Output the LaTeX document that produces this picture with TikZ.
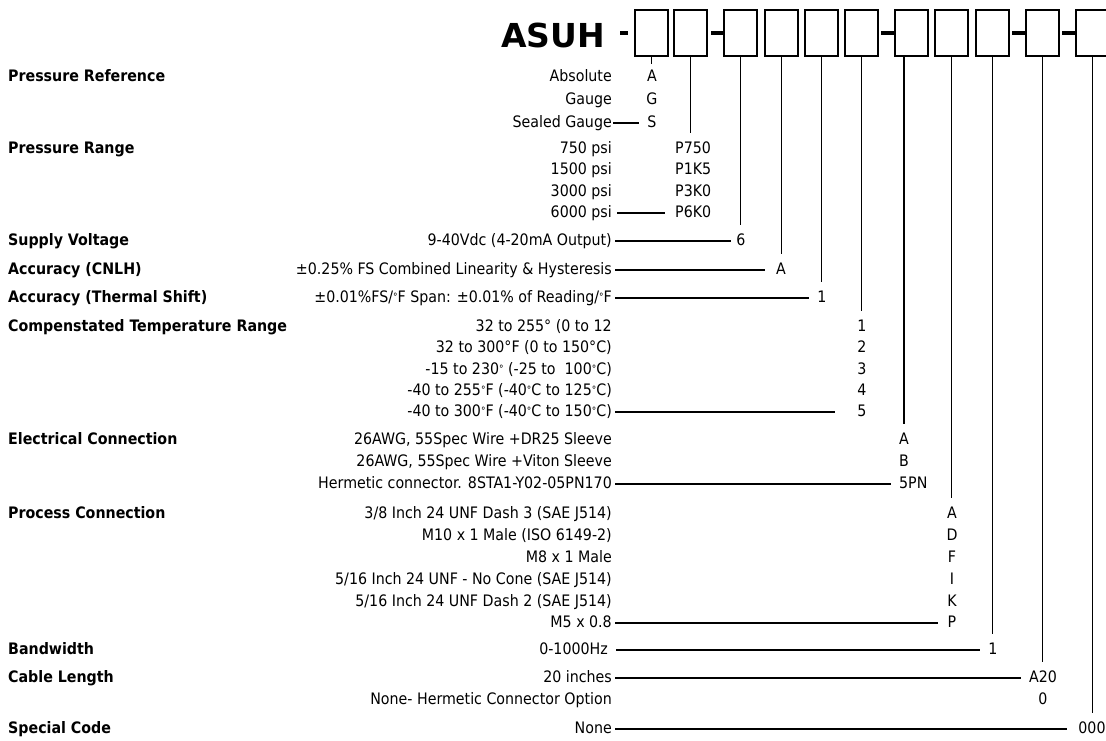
\documentclass[tikz,border=0pt]{standalone}
\usepackage{fontspec}
\setmainfont{DejaVu Sans Condensed}
\newfontfamily\headfont{DejaVu Sans}
\newcommand{\sdeg}{\raisebox{2pt}{\fontsize{10}{10}\selectfont °}}
\begin{document}
\begin{tikzpicture}[x=1pt, y=-1pt,
    lbl/.style={anchor=base west, inner sep=0pt, font=\bfseries\fontsize{15.8}{18}\selectfont},
    opt/.style={anchor=base east, inner sep=0pt, font=\fontsize{15.8}{18}\selectfont},
    code/.style={anchor=base, inner sep=0pt, font=\fontsize{15.8}{18}\selectfont},
    digitbox/.style={draw, line width=2.8pt, minimum width=33pt, minimum height=46pt, inner sep=0pt},
    hline/.style={line width=1.9pt, shorten <=3pt, shorten >=8pt},
    vline/.style={line width=1.6pt, shorten >=8pt},
    dashbar/.style={line width=4pt}]
    \useasboundingbox (0,0) rectangle (1106,740);

    % Part number
    \node[anchor=base east, inner sep=0pt, font=\headfont\bfseries\fontsize{33}{36}\selectfont] (asuh) at (605,47) {ASUH};
    \node[digitbox] (b1) at (651.5,33) {};
    \node[digitbox] (b2) at (690.5,33) {};
    \node[digitbox] (b3) at (740.5,33) {};
    \node[digitbox] (b4) at (781.5,33) {};
    \node[digitbox] (b5) at (821.5,33) {};
    \node[digitbox] (b6) at (861.5,33) {};
    \node[digitbox] (b7) at (911.5,33) {};
    \node[digitbox] (b8) at (951.5,33) {};
    \node[digitbox] (b9) at (992.5,33) {};
    \node[digitbox] (b10) at (1042.5,33) {};
    \node[digitbox] (b11) at (1092.5,33) {};
    \draw[dashbar, shorten <=15pt, shorten >=6pt] (asuh.east |- b1.west) -- (b1.west);
    \draw[dashbar, shorten <=3pt] (b2.east) -- (b3.west);
    \draw[dashbar, shorten <=2pt] (b6.east) -- (b7.west);
    \draw[dashbar, shorten <=2pt] (b9.east) -- (b10.west);
    \draw[dashbar, shorten <=2pt] (b10.east) -- (b11.west);

    % Headings
    \node[lbl] (pref) at (8,81) {Pressure Reference};
    \node[lbl] (prng) at (8,153) {Pressure Range};
    \node[lbl] (sv) at (8,245) {Supply Voltage};
    \node[lbl] (acc) at (8,274) {Accuracy (CNLH)};
    \node[lbl] (acct) at (8,302) {Accuracy (Thermal Shift)};
    \node[lbl] (ctr) at (8,331) {Compenstated Temperature Range};
    \node[lbl] (ec) at (8,444) {Electrical Connection};
    \node[lbl] (pc) at (8,518) {Process Connection};
    \node[lbl] (bw) at (8,654) {Bandwidth};
    \node[lbl] (cl) at (8,682) {Cable Length};
    \node[lbl] (sc) at (8,733) {Special Code};

    % Options
    \node[opt] (abs) at (612,81) {Absolute};
    \node[opt] (gau) at (612,104) {Gauge};
    \node[opt] (sga) at (612,127) {Sealed Gauge};
    \node[opt] (p750) at (612,153) {750 psi};
    \node[opt] (p1k5) at (612,174) {1500 psi};
    \node[opt] (p3k0) at (612,196) {3000 psi};
    \node[opt] (p6k0) at (612,217) {6000 psi};
    \node[opt] (vdc) at (612,245) {9-40Vdc (4-20mA Output)};
    \node[opt] (lin) at (612,274) {±0.25\% FS Combined Linearity \& Hysteresis};
    \node[opt] (ths) at (612,302) {±0.01\%FS/\sdeg F Span: ±0.01\% of Reading/\sdeg F};
    \node[opt] (t1) at (612,331) {32 to 255° (0 to 12};
    \node[opt] (t2) at (612,352) {32 to 300°F (0 to 150°C)};
    \node[opt] (t3) at (612,374) {-15 to 230\sdeg{} (-25 to\ \ 100\sdeg C)};
    \node[opt] (t4) at (612,395) {-40 to 255\sdeg F (-40\sdeg C to 125\sdeg C)};
    \node[opt] (t5) at (612,416) {-40 to 300\sdeg F (-40\sdeg C to 150\sdeg C)};
    \node[opt] (e1) at (612,444) {26AWG, 55Spec Wire +DR25 Sleeve};
    \node[opt] (e2) at (612,466) {26AWG, 55Spec Wire +Viton Sleeve};
    \node[opt] (e3) at (612,488) {Hermetic connector. 8STA1-Y02-05PN170};
    \node[opt] (pr1) at (612,518) {3/8 Inch 24 UNF Dash 3 (SAE J514)};
    \node[opt] (pr2) at (612,540) {M10 x 1 Male (ISO 6149-2)};
    \node[opt] (pr3) at (612,562) {M8 x 1 Male};
    \node[opt] (pr4) at (612,584) {5/16 Inch 24 UNF - No Cone (SAE J514)};
    \node[opt] (pr5) at (612,606) {5/16 Inch 24 UNF Dash 2 (SAE J514)};
    \node[opt] (pr6) at (612,627) {M5 x 0.8};
    \node[opt] (hz) at (608,654) {0-1000Hz};
    \node[opt] (cab1) at (612,682) {20 inches};
    \node[opt] (cab2) at (612,704) {None- Hermetic Connector Option};
    \node[opt] (none) at (612,733) {None};

    % Codes
    \node[code] (c1a) at (652,81) {A};
    \node[code] (c1g) at (652,104) {G};
    \node[code] (c1s) at (652,127) {S};
    \node[code, anchor=base west] (c2a) at (675,153) {P750};
    \node[code, anchor=base west] (c2b) at (675,174) {P1K5};
    \node[code, anchor=base west] (c2c) at (675,196) {P3K0};
    \node[code, anchor=base west] (c2d) at (675,217) {P6K0};
    \node[code] (c3) at (741,245) {6};
    \node[code] (c4) at (781,274) {A};
    \node[code] (c5) at (822,302) {1};
    \node[code] (c6a) at (862,331) {1};
    \node[code] (c6b) at (862,352) {2};
    \node[code] (c6c) at (862,374) {3};
    \node[code] (c6d) at (862,395) {4};
    \node[code] (c6e) at (862,416) {5};
    \node[code, anchor=base west] (c7a) at (899,444) {A};
    \node[code, anchor=base west] (c7b) at (899,466) {B};
    \node[code, anchor=base west] (c7c) at (899,488) {5PN};
    \node[code] (c8a) at (952,518) {A};
    \node[code] (c8b) at (952,540) {D};
    \node[code] (c8c) at (952,562) {F};
    \node[code] (c8d) at (952,584) {I};
    \node[code] (c8e) at (952,606) {K};
    \node[code] (c8f) at (952,627) {P};
    \node[code] (c9) at (993,654) {1};
    \node[code] (c10a) at (1043,682) {A20};
    \node[code] (c10b) at (1043,704) {0};
    \node[code] (c11) at (1092,733) {000};

    % Leaders
    \draw[vline, shorten >=5pt] (b1.south) -- (b1.south |- c1a.north);
    \draw[vline] (b2.south) -- (b2.south |- c2a.north);
    \draw[vline] (b3.south) -- (b3.south |- c3.north);
    \draw[vline] (b4.south) -- (b4.south |- c4.north);
    \draw[vline] (b5.south) -- (b5.south |- c5.north);
    \draw[vline] (b6.south) -- (b6.south |- c6a.north);
    \draw[vline] (c7a.north |- b7.south) -- (c7a.north);
    \draw[vline] (b8.south) -- (b8.south |- c8a.north);
    \draw[vline] (b9.south) -- (b9.south |- c9.north);
    \draw[vline] (b10.south) -- (b10.south |- c10a.north);
    \draw[vline] (b11.south) -- (b11.south |- c11.north);

    \draw[hline, shorten <=1pt] ([yshift=4pt]sga.base east) -- ([yshift=4pt]c1s.base west);
    \draw[hline, shorten <=5pt, shorten >=10pt] ([yshift=4pt]p6k0.base east) -- ([yshift=4pt]c2d.base west);
    \draw[hline, shorten >=5pt] ([yshift=4pt]vdc.base east) -- ([yshift=4pt]c3.base west);
    \draw[hline, shorten >=11pt] ([yshift=4pt]lin.base east) -- ([yshift=4pt]c4.base west);
    \draw[hline] ([yshift=4pt]ths.base east) -- ([yshift=4pt]c5.base west);
    \draw[hline, shorten >=22pt] ([yshift=4pt]t5.base east) -- ([yshift=4pt]c6e.base west);
    \draw[hline] ([yshift=4pt]e3.base east) -- ([yshift=4pt]c7c.base west);
    \draw[hline, shorten >=10pt] ([yshift=4pt]pr6.base east) -- ([yshift=4pt]c8f.base west);
    \draw[hline, shorten <=8pt] ([yshift=4pt]hz.base east) -- ([yshift=4pt]c9.base west);
    \draw[hline] ([yshift=4pt]cab1.base east) -- ([yshift=4pt]c10a.base west);
    \draw[hline, shorten >=11pt] ([yshift=4pt]none.base east) -- ([yshift=4pt]c11.base west);
\end{tikzpicture}
\end{document}
